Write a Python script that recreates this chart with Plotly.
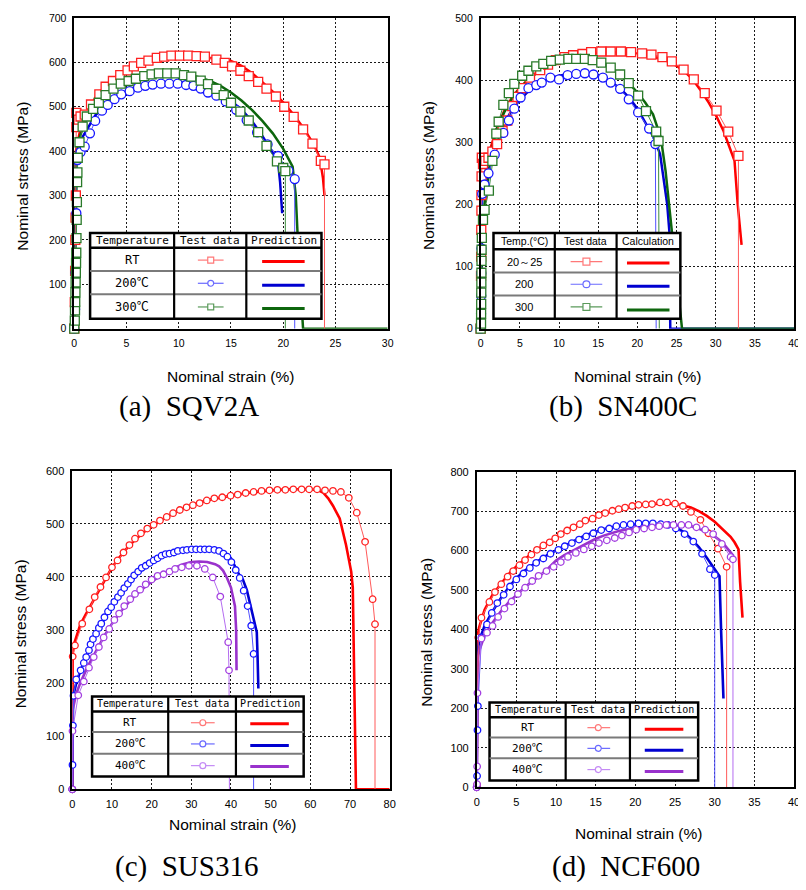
import plotly.graph_objects as go

# The page body adds an 8px offset; the figure is drawn 8px smaller and all
# design coordinates (screen pixels) are shifted by OFF.
OFF = 8
W, H = 806 - OFF, 890 - OFF

# ================= DATA =================
# ---- (a) SQV2A ----
a_xticks = [0, 5, 10, 15, 20, 25, 30]
a_yticks = [0, 100, 200, 300, 400, 500, 600, 700]
a_rt_test_x = [0, 0.05, 0.08, 0.1, 0.12, 0.15, 0.2, 0.2, 0.4, 0.6, 1.0, 1.6, 2.4, 3.0, 3.7, 4.4, 5.1, 5.7, 6.4, 7.1,
               7.9, 8.6, 9.3, 10.1, 10.9, 11.7, 12.5, 13.6, 14.4, 15.1, 15.9, 16.7, 17.6, 18.4, 19.3, 20.1, 21.0, 21.9,
               22.8, 23.6, 23.95, 23.95]
a_rt_test_y = [0, 60, 130, 200, 250, 300, 454, 486, 471, 478, 482, 505, 528, 545, 558, 571, 582, 591, 599, 604,
               610, 613, 615, 615, 615, 614, 613, 606, 599, 591, 581, 569, 556, 541, 523, 500, 477, 449, 417, 378, 370, 0]
a_200_test_x = [0, 0.08, 0.12, 0.2, 0.3, 0.6, 1.0, 1.5, 2.0, 2.65, 3.2, 3.85, 4.5, 5.3, 6.1, 6.8, 7.5, 8.3, 9.1, 9.9,
                10.7, 11.4, 12.1, 12.8, 13.6, 14.5, 15.5, 16.5, 17.5, 18.5, 19.5, 20.5, 21.1, 21.1]
a_200_test_y = [0, 44, 126, 260, 380, 398, 410, 440, 468, 491, 504, 517, 528, 535, 543, 547, 550, 552, 552, 552,
                549, 547, 541, 532, 525, 512, 493, 470, 442, 415, 389, 356, 337, 0]
a_300_test_x = [0, 0.05, 0.07, 0.09, 0.11, 0.13, 0.15, 0.17, 0.19, 0.21, 0.23, 0.25, 0.27, 0.3, 0.33, 0.5, 0.8, 1.2,
                1.8, 2.35, 3.0, 3.75, 4.45, 5.2, 5.9, 6.7, 7.4, 8.1, 8.9, 9.7, 10.5, 11.2, 12.1, 12.8, 13.6, 14.3,
                15.0, 15.9, 16.7, 17.6, 18.4, 19.4, 20.0, 20.2, 20.2]
a_300_test_y = [0, 18, 41, 60, 82, 104, 126, 148, 171, 204, 245, 285, 330, 352, 385, 420, 455, 478, 495, 509, 526,
                541, 552, 558, 563, 569, 573, 575, 575, 575, 571, 568, 559, 551, 540, 526, 509, 489, 469, 443, 412,
                377, 362, 355, 0]
a_rt_pred_x = [0, 0.15, 0.5, 1, 2, 3, 4, 5, 6, 7, 8, 9, 10, 11, 12, 13, 14, 15, 16, 17, 18, 19, 20, 21, 22, 23, 23.5,
               23.8, 23.95]
a_rt_pred_y = [0, 400, 440, 475, 520, 548, 568, 582, 595, 604, 610, 614, 615, 615, 613, 610, 607, 603, 592, 576, 555,
               534, 510, 482, 450, 412, 385, 340, 300]
a_200_pred_x = [0, 0.15, 0.5, 1, 2, 3, 4, 5, 6, 7, 8, 9, 10, 11, 12, 13, 14, 15, 16, 17, 18, 19, 19.5, 19.7, 19.9]
a_200_pred_y = [0, 390, 420, 440, 480, 505, 522, 535, 543, 549, 553, 555, 555, 553, 548, 540, 528, 513, 494, 468,
                434, 396, 376, 330, 260]
a_300_pred_x = [0, 0.15, 0.5, 1, 2, 3, 4, 5, 6, 7, 8, 9, 10, 11, 12, 13, 14, 15, 16, 17, 18, 19, 20, 20.9, 21.2,
                21.5, 21.9, 30]
a_300_pred_y = [0, 390, 430, 465, 505, 530, 548, 558, 566, 571, 574, 575, 575, 572, 566, 558, 547, 532, 514, 493,
                468, 440, 405, 365, 300, 150, 0, 0]

# ---- (b) SN400C ----
b_xticks = [0, 5, 10, 15, 20, 25, 30, 35, 40]
b_yticks = [0, 100, 200, 300, 400, 500]
b_rt_test_x = [0, 0.05, 0.07, 0.08, 0.1, 0.1, 0.12, 0.15, 0.3, 0.6, 1.0, 1.5, 2.1, 2.8, 3.4, 4.0, 4.7, 5.3, 6.3, 7.6,
               8.6, 9.6, 10.7, 11.8, 13.0, 14.1, 15.4, 16.6, 17.9, 19.2, 20.6, 21.8, 23.2, 24.4, 25.9, 27.2, 28.6,
               30.1, 31.6, 32.9, 32.9]
b_rt_test_y = [0, 85, 116, 159, 190, 215, 245, 275, 265, 270, 275, 285, 297, 318, 335, 358, 373, 387, 404, 416, 425,
               432, 437, 440, 442, 445, 446, 446, 446, 445, 443, 441, 437, 430, 417, 401, 379, 351, 317, 278, 0]
b_200_test_x = [0, 0.05, 0.07, 0.08, 0.1, 0.2, 0.5, 1.0, 1.8, 2.9, 3.6, 4.3, 5.1, 6.1, 7.1, 7.8, 8.9, 10.0, 11.1,
                12.2, 13.3, 14.4, 15.6, 16.6, 17.8, 18.9, 20.1, 21.5, 22.3, 22.4]
b_200_test_y = [0, 24, 53, 89, 129, 217, 232, 250, 280, 315, 335, 354, 372, 387, 392, 396, 404, 401, 408, 410, 411,
                409, 404, 396, 386, 369, 348, 322, 297, 0]
b_300_test_x = [0, 0.05, 0.06, 0.07, 0.08, 0.09, 0.1, 0.11, 0.12, 0.15, 0.3, 0.5, 1.05, 1.5, 2.0, 2.3, 2.9, 3.6, 4.3,
                5.3, 6.1, 7.1, 8.0, 9.0, 10.1, 11.2, 12.2, 13.3, 14.3, 15.4, 16.6, 17.8, 18.9, 20.1, 21.1, 22.4,
                22.7, 22.8]
b_300_test_y = [0, 8, 24, 40, 58, 74, 90, 109, 127, 146, 175, 191, 222, 270, 314, 333, 360, 379, 394, 407, 415, 422,
                426, 431, 433, 434, 434, 434, 432, 428, 420, 409, 395, 375, 350, 317, 302, 0]
b_rt_pred_x = [0, 0.1, 0.5, 1, 2, 3, 4, 5, 6, 7, 8, 9, 10, 12, 14, 16, 18, 20, 22, 24, 25, 26, 27, 28, 29, 30, 31,
               32, 32.4, 32.8, 33.1, 33.3]
b_rt_pred_y = [0, 222, 245, 280, 320, 350, 372, 388, 400, 410, 418, 425, 430, 438, 443, 445, 445, 443, 438, 430, 423,
               414, 402, 385, 366, 344, 318, 285, 270, 201, 165, 135]
b_200_pred_x = [0, 0.2, 1, 2, 3, 4, 5, 6, 7, 8, 9, 10, 11, 12, 13, 14, 15, 16, 17, 18, 19, 20, 21, 22, 22.9, 23.4,
                23.8, 24.1, 24.2, 40]
b_200_pred_y = [0, 210, 255, 295, 330, 352, 368, 381, 391, 398, 403, 407, 409, 410, 410, 409, 406, 401, 394, 384,
                371, 354, 333, 310, 281, 240, 201, 154, 0, 0]
b_300_pred_x = [0, 0.1, 0.5, 1, 1.7, 2, 3, 4, 5, 6, 7, 8, 9, 10, 11, 12, 13, 14, 15, 16, 17, 18, 19, 20, 21, 22, 23,
                23.6, 24.4, 25.7, 40]
b_300_pred_y = [0, 175, 200, 245, 307, 320, 348, 370, 387, 400, 410, 418, 424, 429, 432, 434, 434, 432, 429, 424,
                416, 406, 394, 380, 364, 345, 307, 254, 154, 0, 0]

# ---- (c) SUS316 ----
c_xticks = [0, 10, 20, 30, 40, 50, 60, 70, 80]
c_yticks = [0, 100, 200, 300, 400, 500, 600]
c_rt_test_x = [0, 0.1, 0.67, 2.5, 4.3, 5.65, 7.1, 8.5, 10.0, 11.4, 12.9, 14.4, 15.8, 17.3, 18.9, 20.5, 22.1, 23.8,
               25.4, 27.1, 28.8, 30.4, 32.1, 33.9, 35.8, 37.8, 39.9, 41.7, 43.7, 45.7, 47.7, 49.7, 51.7, 53.7, 55.7,
               57.8, 59.7, 61.7, 63.7, 65.7, 67.7, 69.7, 71.7, 73.8, 75.7, 76.3, 76.3]
c_rt_test_y = [0, 250, 271, 312, 339, 362, 381, 399, 418, 431, 446, 460, 472, 482, 491, 498, 506, 513, 520, 526, 531,
               535, 539, 544, 548, 550, 553, 555, 558, 560, 562, 563, 564, 564, 565, 565, 565, 565, 563, 562, 560,
               549, 521, 466, 358, 311, 0]
c_200_test_x = [0, 0.05, 0.15, 0.3, 1.0, 2.1, 2.9, 3.5, 4.2, 4.6, 5.2, 6.0, 6.7, 7.3, 8.1, 9.0, 9.8, 10.6, 11.5,
                12.3, 13.1, 14.0, 14.8, 15.6, 16.6, 17.5, 18.5, 19.5, 20.5, 21.5, 22.5, 23.5, 24.5, 25.6, 26.6, 27.9,
                28.9, 30.1, 31.2, 32.3, 33.4, 34.5, 35.8, 37.0, 38.1, 39.1, 40.1, 41.2, 42.2, 43.2, 44.2, 45.1, 45.7,
                45.7]
c_200_test_y = [0, 46, 120, 176, 207, 224, 238, 249, 262, 273, 283, 293, 304, 312, 324, 335, 343, 353, 362, 370, 379,
                387, 395, 403, 410, 417, 421, 426, 431, 435, 440, 443, 444, 446, 449, 450, 451, 452, 452, 452, 452,
                452, 451, 449, 444, 438, 428, 413, 398, 374, 345, 308, 255, 0]
c_400_test_x = [0, 0.05, 1.5, 2.9, 4.2, 5.4, 6.7, 7.9, 9.3, 10.6, 11.8, 13.1, 14.6, 15.8, 17.1, 18.5, 20.0, 21.5,
                23.0, 24.5, 25.9, 27.6, 29.4, 31.4, 33.4, 35.4, 37.3, 39.3, 39.5, 39.6]
c_400_test_y = [0, 110, 177, 203, 229, 249, 268, 286, 302, 319, 331, 345, 358, 368, 376, 386, 395, 402, 405, 410,
                415, 418, 421, 421, 415, 399, 363, 277, 224, 0]
c_rt_pred_x = [0, 0.1, 0.5, 2, 4, 6, 8, 10, 12, 14, 16, 18, 20, 22, 24, 26, 28, 30, 32, 35, 40, 45, 50, 55, 60, 62,
               63.2, 64.5, 65.7, 67.4, 69, 70.3, 70.7, 71.0, 71.5, 80]
c_rt_pred_y = [0, 255, 275, 310, 338, 364, 392, 418, 438, 456, 471, 484, 495, 505, 514, 522, 529, 535, 540, 546, 553,
               559, 563, 565, 565, 563, 559, 548, 534, 510, 460, 410, 380, 200, 0, 0]
c_200_pred_x = [0, 0.2, 1, 2, 4, 6, 8, 10, 12, 14, 16, 18, 20, 22, 24, 26, 28, 30, 32, 34, 36, 38, 40, 42, 43, 44,
                45, 46, 46.5, 46.7, 46.9]
c_200_pred_y = [0, 175, 200, 222, 260, 292, 320, 345, 367, 385, 402, 416, 427, 436, 442, 446, 449, 451, 452, 452,
                451, 446, 435, 405, 395, 375, 342, 312, 296, 250, 190]
c_400_pred_x = [0, 0.1, 1, 2, 4, 6, 8, 10, 12, 14, 16, 18, 20, 22, 24, 26, 28, 30, 32, 34, 36, 37, 38, 39, 40, 41,
                41.3, 41.4]
c_400_pred_y = [0, 150, 180, 200, 233, 262, 288, 312, 333, 350, 366, 379, 391, 401, 410, 418, 424, 428, 429, 428,
                424, 420, 412, 398, 380, 345, 300, 224]

# ---- (d) NCF600 ----
d_xticks = [0, 5, 10, 15, 20, 25, 30, 35, 40]
d_yticks = [0, 100, 200, 300, 400, 500, 600, 700, 800]
d_rt_test_x = [0, 0.05, 0.2, 0.6, 1.6, 2.3, 3.1, 3.9, 4.6, 5.4, 6.1, 6.9, 7.6, 8.4, 9.2, 9.9, 10.6, 11.4, 12.2,
               13.0, 13.7, 14.6, 15.4, 16.2, 17.1, 17.9, 18.7, 19.6, 20.4, 21.3, 22.1, 23.1, 24.0, 25.0, 26.0, 27.0,
               28.2, 29.2, 30.4, 31.5, 31.5]
d_rt_test_y = [0, 6, 380, 430, 470, 495, 515, 534, 548, 563, 576, 590, 602, 613, 621, 631, 642, 651, 659, 667, 676,
               681, 690, 695, 701, 705, 709, 713, 716, 717, 718, 722, 722, 719, 713, 698, 678, 644, 605, 559, 0]
d_200_test_x = [0, 0.05, 0.1, 0.15, 0.6, 1.3, 1.9, 2.6, 3.4, 4.2, 5.0, 5.9, 6.7, 7.5, 8.4, 9.3, 10.3, 11.1, 12.0,
                12.9, 13.8, 14.7, 15.7, 16.7, 17.6, 18.5, 19.4, 20.4, 21.3, 22.2, 23.2, 24.1, 25.1, 26.2, 27.3, 28.4,
                29.4, 30.0, 30.0]
d_200_test_y = [0, 29, 145, 206, 380, 413, 442, 467, 488, 509, 527, 542, 556, 569, 580, 592, 602, 611, 619, 628,
                636, 644, 652, 656, 662, 665, 667, 669, 669, 669, 667, 665, 656, 642, 623, 592, 553, 538, 0]
d_400_test_x = [0, 0.05, 0.06, 0.1, 0.6, 1.3, 2.0, 2.7, 3.5, 4.4, 5.2, 6.1, 7.0, 7.8, 8.8, 9.7, 10.6, 11.5, 12.5,
                13.5, 14.5, 15.4, 16.4, 17.4, 18.3, 19.2, 20.1, 21.1, 22.1, 23.0, 23.9, 24.8, 25.8, 26.7, 27.7, 28.8,
                29.8, 30.9, 32.0, 32.3, 32.3]
d_400_test_y = [0, 8, 53, 239, 377, 392, 409, 432, 453, 471, 490, 506, 523, 536, 548, 559, 571, 584, 594, 603, 611,
                619, 626, 632, 638, 646, 653, 656, 659, 662, 665, 665, 665, 665, 659, 653, 642, 617, 584, 578, 0]
d_rt_pred_x = [0, 0.1, 0.3, 0.7, 1, 2, 3, 4, 5, 6, 7, 8, 9, 10, 11, 12, 13, 14, 15, 16, 17, 18, 19, 20, 21, 22, 23,
               24, 25, 26, 27, 28, 29, 30, 31, 32, 32.5, 33.0, 33.2, 33.5]
d_rt_pred_y = [0, 380, 405, 430, 450, 488, 515, 540, 560, 578, 594, 608, 622, 636, 648, 659, 668, 677, 686, 693, 699,
               704, 709, 713, 716, 718, 719, 719, 718, 714, 709, 700, 688, 673, 655, 635, 621, 603, 520, 430]
d_200_pred_x = [0, 0.1, 0.3, 0.7, 1, 2, 3, 4, 5, 6, 7, 8, 9, 10, 11, 12, 13, 14, 15, 16, 17, 18, 19, 20, 21, 22, 23,
                24, 25, 26, 27, 28, 29, 30, 30.6, 30.8, 31.1]
d_200_pred_y = [0, 340, 370, 395, 410, 446, 478, 506, 530, 548, 563, 577, 590, 601, 612, 622, 632, 641, 648, 654,
                659, 663, 665, 667, 668, 668, 668, 667, 660, 648, 630, 609, 582, 551, 535, 400, 225]
d_400_pred_x = [0, 0.1, 0.3, 0.7, 1, 2, 3, 4, 5, 6, 7, 8, 9, 10, 11, 12, 13, 14, 15, 16, 17, 18, 19, 20, 21, 22, 23,
                24, 25, 26, 27, 28, 29, 30, 31, 32, 32.3, 32.3]
d_400_pred_y = [0, 320, 345, 370, 385, 417, 445, 468, 488, 506, 522, 537, 555, 575, 588, 599, 609, 619, 630, 638,
                645, 650, 654, 657, 660, 662, 664, 665, 665, 665, 662, 656, 646, 636, 620, 596, 588, 575]

# legend texts
a_headers = ["Temperature", "Test data", "Prediction"]
a_rows = ["RT", "200℃", "300℃"]
b_headers = ["Temp.(°C)", "Test data", "Calculation"]
b_rows = ["20～25", "200", "300"]
c_headers = ["Temperature", "Test data", "Prediction"]
c_rows = ["RT", "200℃", "400℃"]
d_headers = ["Temperature", "Test data", "Prediction"]
d_rows = ["RT", "200℃", "400℃"]
captions = ["(a)\u00a0\u00a0SQV2A", "(b)\u00a0\u00a0SN400C", "(c)\u00a0\u00a0SUS316", "(d)\u00a0\u00a0NCF600"]

# ================= STYLE =================
RED = dict(pred="#ff0000", line="#ff5a5a", mark="#ff2020", leg="#ff7878")
BLUE = dict(pred="#0000d0", line="#5050ff", mark="#1515ff", leg="#6a6aff")
GREEN = dict(pred="#0d660d", line="#3c8c3c", mark="#2a7a2a", leg="#5a9a5a")
PURPLE = dict(pred="#9932cc", line="#b46cf0", mark="#a33fe0", leg="#c48af5")

SANS = "Liberation Sans, Arial, sans-serif"
MONO = "DejaVu Sans Mono, Noto Sans CJK JP, monospace"
SERIF = "Liberation Serif, Times New Roman, serif"

fig = go.Figure()


def add_panel(n, series, msize, pw):
    xa = "x" if n == 1 else f"x{n}"
    ya = "y" if n == 1 else f"y{n}"
    for (tx, ty, px, py, col, sym) in series:
        fig.add_trace(go.Scatter(x=px, y=py, mode="lines", line=dict(color=col["pred"], width=pw),
                                 xaxis=xa, yaxis=ya, hoverinfo="skip", showlegend=False))
    for (tx, ty, px, py, col, sym) in series:
        fig.add_trace(go.Scatter(x=tx, y=ty, mode="lines", line=dict(color=col["line"], width=1),
                                 xaxis=xa, yaxis=ya, hoverinfo="skip", showlegend=False))
    for (tx, ty, px, py, col, sym) in series:
        fig.add_trace(go.Scatter(x=tx[:-1], y=ty[:-1], mode="markers", cliponaxis=False,
                                 marker=dict(symbol=sym, size=msize, color="white",
                                             line=dict(color=col["mark"], width=1.3)),
                                 xaxis=xa, yaxis=ya, hoverinfo="skip", showlegend=False))


add_panel(1, [(a_rt_test_x, a_rt_test_y, a_rt_pred_x, a_rt_pred_y, RED, "square"),
              (a_200_test_x, a_200_test_y, a_200_pred_x, a_200_pred_y, BLUE, "circle"),
              (a_300_test_x, a_300_test_y, a_300_pred_x, a_300_pred_y, GREEN, "square")], 9, 2.5)
add_panel(2, [(b_rt_test_x, b_rt_test_y, b_rt_pred_x, b_rt_pred_y, RED, "square"),
              (b_200_test_x, b_200_test_y, b_200_pred_x, b_200_pred_y, BLUE, "circle"),
              (b_300_test_x, b_300_test_y, b_300_pred_x, b_300_pred_y, GREEN, "square")], 9, 2.5)
add_panel(3, [(c_rt_test_x, c_rt_test_y, c_rt_pred_x, c_rt_pred_y, RED, "circle"),
              (c_200_test_x, c_200_test_y, c_200_pred_x, c_200_pred_y, BLUE, "circle"),
              (c_400_test_x, c_400_test_y, c_400_pred_x, c_400_pred_y, PURPLE, "circle")], 6.5, 2.6)
add_panel(4, [(d_rt_test_x, d_rt_test_y, d_rt_pred_x, d_rt_pred_y, RED, "circle"),
              (d_200_test_x, d_200_test_y, d_200_pred_x, d_200_pred_y, BLUE, "circle"),
              (d_400_test_x, d_400_test_y, d_400_pred_x, d_400_pred_y, PURPLE, "circle")], 6.5, 2.6)


def axis(domain, rng, ticks, anchor, fs):
    return dict(domain=domain, range=rng, tickvals=ticks, ticktext=[str(t) for t in ticks], anchor=anchor,
                showgrid=True, gridcolor="#1a1a1a", griddash="2px,2px", gridwidth=1,
                showline=True, mirror=True, linecolor="black", linewidth=1.5, zeroline=False,
                ticks="outside", ticklen=4, tickcolor="rgba(0,0,0,0)",
                tickfont=dict(family=SANS, size=fs, color="black"), fixedrange=True)


def px_(x):
    return (x - OFF) / W


def py_(y):
    return 1 - (y - OFF) / H


def dom_x(p0, p1):
    return [px_(p0), px_(p1)]


def dom_y(top, bottom):
    return [py_(bottom), py_(top)]


fig.update_layout(
    width=W, height=H, margin=dict(l=0, r=0, t=0, b=0),
    paper_bgcolor="white", plot_bgcolor="white", showlegend=False,
    xaxis=axis(dom_x(72, 389), [0, 30], a_xticks, "y", 10.5),
    yaxis=axis(dom_y(12, 327), [0, 700], a_yticks, "x", 10.5),
    xaxis2=axis(dom_x(483, 800), [0, 40], b_xticks, "y2", 10.5),
    yaxis2=axis(dom_y(12, 327), [0, 500], b_yticks, "x2", 10.5),
    xaxis3=axis(dom_x(70, 391), [0, 80], c_xticks, "y3", 11),
    yaxis3=axis(dom_y(471, 794), [0, 600], c_yticks, "x3", 11),
    xaxis4=axis(dom_x(479, 800), [0, 40], d_xticks, "y4", 11),
    yaxis4=axis(dom_y(472, 792), [0, 800], d_yticks, "x4", 11),
)

shapes = []
annots = []


def s_rect(x0, y0, x1, y1, lc, lw, fill):
    shapes.append(dict(type="rect", xref="paper", yref="paper", x0=px_(x0), x1=px_(x1), y0=py_(y1), y1=py_(y0),
                       line=dict(color=lc, width=lw), fillcolor=fill, layer="above"))


def s_line(x0, y0, x1, y1, lc, lw):
    shapes.append(dict(type="line", xref="paper", yref="paper", x0=px_(x0), x1=px_(x1), y0=py_(y0), y1=py_(y1),
                       line=dict(color=lc, width=lw), layer="above"))


def s_mark(cx, cy, r, sym, lc):
    t = "rect" if sym == "square" else "circle"
    shapes.append(dict(type=t, xref="paper", yref="paper", x0=px_(cx - r), x1=px_(cx + r), y0=py_(cy + r),
                       y1=py_(cy - r), line=dict(color=lc, width=1.2), fillcolor="white", layer="above"))


def text(x, y, s, font, size, color="black"):
    annots.append(dict(xref="paper", yref="paper", x=px_(x), y=py_(y), text=s, showarrow=False,
                       xanchor="center", yanchor="middle", font=dict(family=font, size=size, color=color)))


def table(box, cols, hb, rdiv, headers, rows, hy, ry, tmx, tl, pl, ply, cols_s, syms, font, fs, rfs, mr):
    L, T, R, B = box
    s_rect(L, T, R, B, "black", 2.5, "white")
    for yv in rdiv:
        s_line(L, yv, R, yv, "#7a7a7a", 2)
    s_line(L, hb, R, hb, "black", 2.5)
    for xv in cols:
        s_line(xv, T, xv, B, "black", 2.2)
    c0 = (L + cols[0]) / 2
    c1 = (cols[0] + cols[1]) / 2
    c2 = (cols[1] + R) / 2
    for cx, h in zip([c0, c1, c2], headers):
        text(cx, hy, h, font, fs)
    for i in range(3):
        text(c0, ry[i], rows[i], font, rfs)
        s_line(tl[0], ry[i], tl[1], ry[i], cols_s[i]["leg"], 1.2)
        s_mark(tmx, ry[i], mr, syms[i], cols_s[i]["leg"])
        s_line(pl[0], ply[i], pl[1], ply[i], cols_s[i]["pred"], 3)


table((88, 230, 322, 317), (173, 246), 245, (268.5, 292), a_headers, a_rows, 237.5, (257.5, 281, 305),
      210, (197, 223), (262, 305), (259, 283, 306.5), (RED, BLUE, GREEN), ("square", "circle", "square"),
      MONO, 11, 12, 3)
table((496, 230, 685, 317), (558, 620.5), 246.5, (270, 293.5), b_headers, b_rows, 238.5, (259, 282, 305),
      590, (574, 606), (631, 674), (260.5, 284, 308), (RED, BLUE, GREEN), ("square", "circle", "square"),
      SANS, 10.5, 11, 3.5)
table((90, 700, 304, 781), (167, 235.5), 715, (736, 758), c_headers, c_rows, 707, (726.5, 748, 770),
      202, (190, 214), (250, 289), (727.5, 749.5, 771), (RED, BLUE, PURPLE), ("circle", "circle", "circle"),
      MONO, 10, 11, 3)
table((492, 706, 703, 785), (569, 634), 721, (741.5, 762.5), d_headers, d_rows, 713.5, (731.5, 752.5, 774),
      602, (591, 614), (649, 688), (733, 754.5, 776), (RED, BLUE, PURPLE), ("circle", "circle", "circle"),
      MONO, 10, 11, 3)

# axis titles
for (x, y) in [(230, 375), (642, 375), (232, 830), (643, 839)]:
    text(x, y, "Nominal strain (%)", SANS, 15.5)
for (x, y) in [(20, 172), (431, 172), (18, 636), (428, 635)]:
    annots.append(dict(xref="paper", yref="paper", x=px_(x), y=py_(y), text="Nominal stress (MPa)",
                       showarrow=False, textangle=-90, xanchor="center", yanchor="middle",
                       font=dict(family=SANS, size=15.5, color="black")))
# captions
for (x, y), s in zip([(188, 406), (627, 406), (186, 872), (630, 872)], captions):
    text(x, y, s, SERIF, 29)

fig.update_layout(shapes=shapes, annotations=annots)
fig.write_html("out.html")
